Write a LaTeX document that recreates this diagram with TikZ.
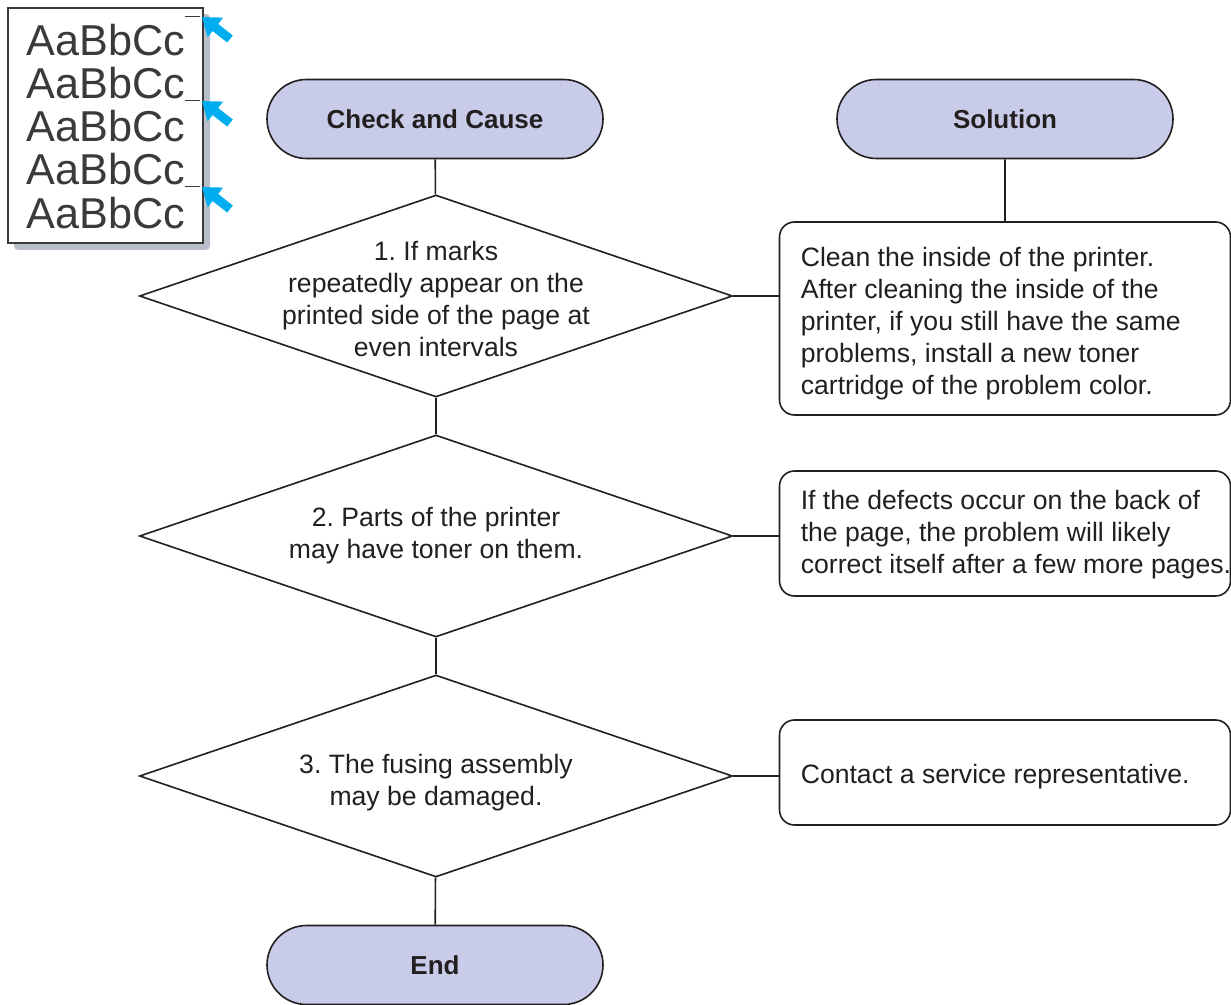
\documentclass[tikz,border=0pt]{standalone}
\usepackage{fontspec}
\setmainfont{Liberation Sans}
\usetikzlibrary{shapes.geometric, shapes.misc, arrows.meta}
\definecolor{termfill}{HTML}{C8CCE8}
\definecolor{markblue}{HTML}{00AEEF}
\definecolor{inkgray}{HTML}{3A3A3A}
\definecolor{shadowgray}{HTML}{B9BFC9}
\definecolor{ink}{HTML}{231F20}
\frenchspacing

\begin{document}
\begin{tikzpicture}[x=0.5pt, y=-0.5pt, line width=0.8pt, draw=ink, text=ink,
  terminal/.style={rounded rectangle, draw, fill=termfill, minimum width=168pt, minimum height=39.5pt, inner sep=0pt, font=\bfseries\fontsize{13}{15}\selectfont},
  decision/.style={diamond, draw, minimum width=296.5pt, minimum height=101pt, inner sep=0pt},
  qtext/.style={align=center, inner sep=0pt, font=\fontsize{13.3}{16}\selectfont},
  answerbox/.style={draw, rounded corners=7.5pt, minimum width=225.5pt, inner sep=0pt},
  atext/.style={anchor=west, align=left, inner sep=0pt, font=\fontsize{13.3}{16}\selectfont},
  sample/.style={text=inkgray, inner sep=0pt, font=\fontsize{21.6}{22}\selectfont},
  markarrow/.style={draw=markblue, line width=4.5pt, -{Triangle[length=8.5pt, width=12pt]}}]
  \useasboundingbox (0,0) rectangle (1231,1005);

  % sample page with repeated marks
  \fill[shadowgray, rounded corners=2pt] (14,14) rectangle (210,250);
  \draw[fill=white, draw=inkgray, line width=0.6pt] (8,8) rectangle (203,243);
  \foreach \y [count=\i] in {40,83,126,169,213}
    \node[sample] (line\i) at (106,\y) {AaBbCc};
  \foreach \y [count=\i] in {17,101,187} {
    \draw[inkgray, line width=0.5pt] (185,\y) -- (200,\y);
    \coordinate (mark\i) at (202,\y);
    \coordinate (tail\i) at (230,\y+22);
    \draw[markarrow] (tail\i) -- (mark\i);
  }

  % flow chart
  \node[terminal] (check) at (435,119) {Check and Cause};
  \node[terminal] (solution) at (1005,119) {Solution};
  \node[terminal] (end) at (435,965) {End};

  \node[decision] (q1) at (436,296) {};
  \node[qtext] (q1t) at (436,299) {1. If marks\\repeatedly appear on the\\printed side of the page at\\even intervals};
  \node[decision] (q2) at (436,536) {};
  \node[qtext] (q2t) at (q2.center) {2. Parts of the printer\\may have toner on them.};
  \node[decision] (q3) at (436,776) {};
  \node[qtext] (q3t) at (436,783) {3. The fusing assembly\\may be damaged.};

  \node[answerbox, minimum height=96.5pt] (a1) at (1005,318.5) {};
  \node[atext] (a1t) at (800,324) {Clean the inside of the printer.\\After cleaning the inside of the\\printer, if you still have the same\\problems, install a new toner\\cartridge of the problem color.};
  \node[answerbox, minimum height=62.5pt] (a2) at (1005,533.5) {};
  \node[atext] (a2t) at (800,535) {If the defects occur on the back of\\the page, the problem will likely\\correct itself after a few more pages.};
  \node[answerbox, minimum height=52.5pt] (a3) at (1005,772.5) {};
  \node[atext] (a3t) at (800,777) {Contact a service representative.};

  \draw (check) -- (q1);
  \draw (q1) -- (q2);
  \draw (q2) -- (q3);
  \draw (q3) -- (end);
  \draw (solution) -- (a1);
  \draw (q1.east) -- (q1.east -| a1.west);
  \draw (q2.east) -- (q2.east -| a2.west);
  \draw (q3.east) -- (q3.east -| a3.west);
\end{tikzpicture}
\end{document}
